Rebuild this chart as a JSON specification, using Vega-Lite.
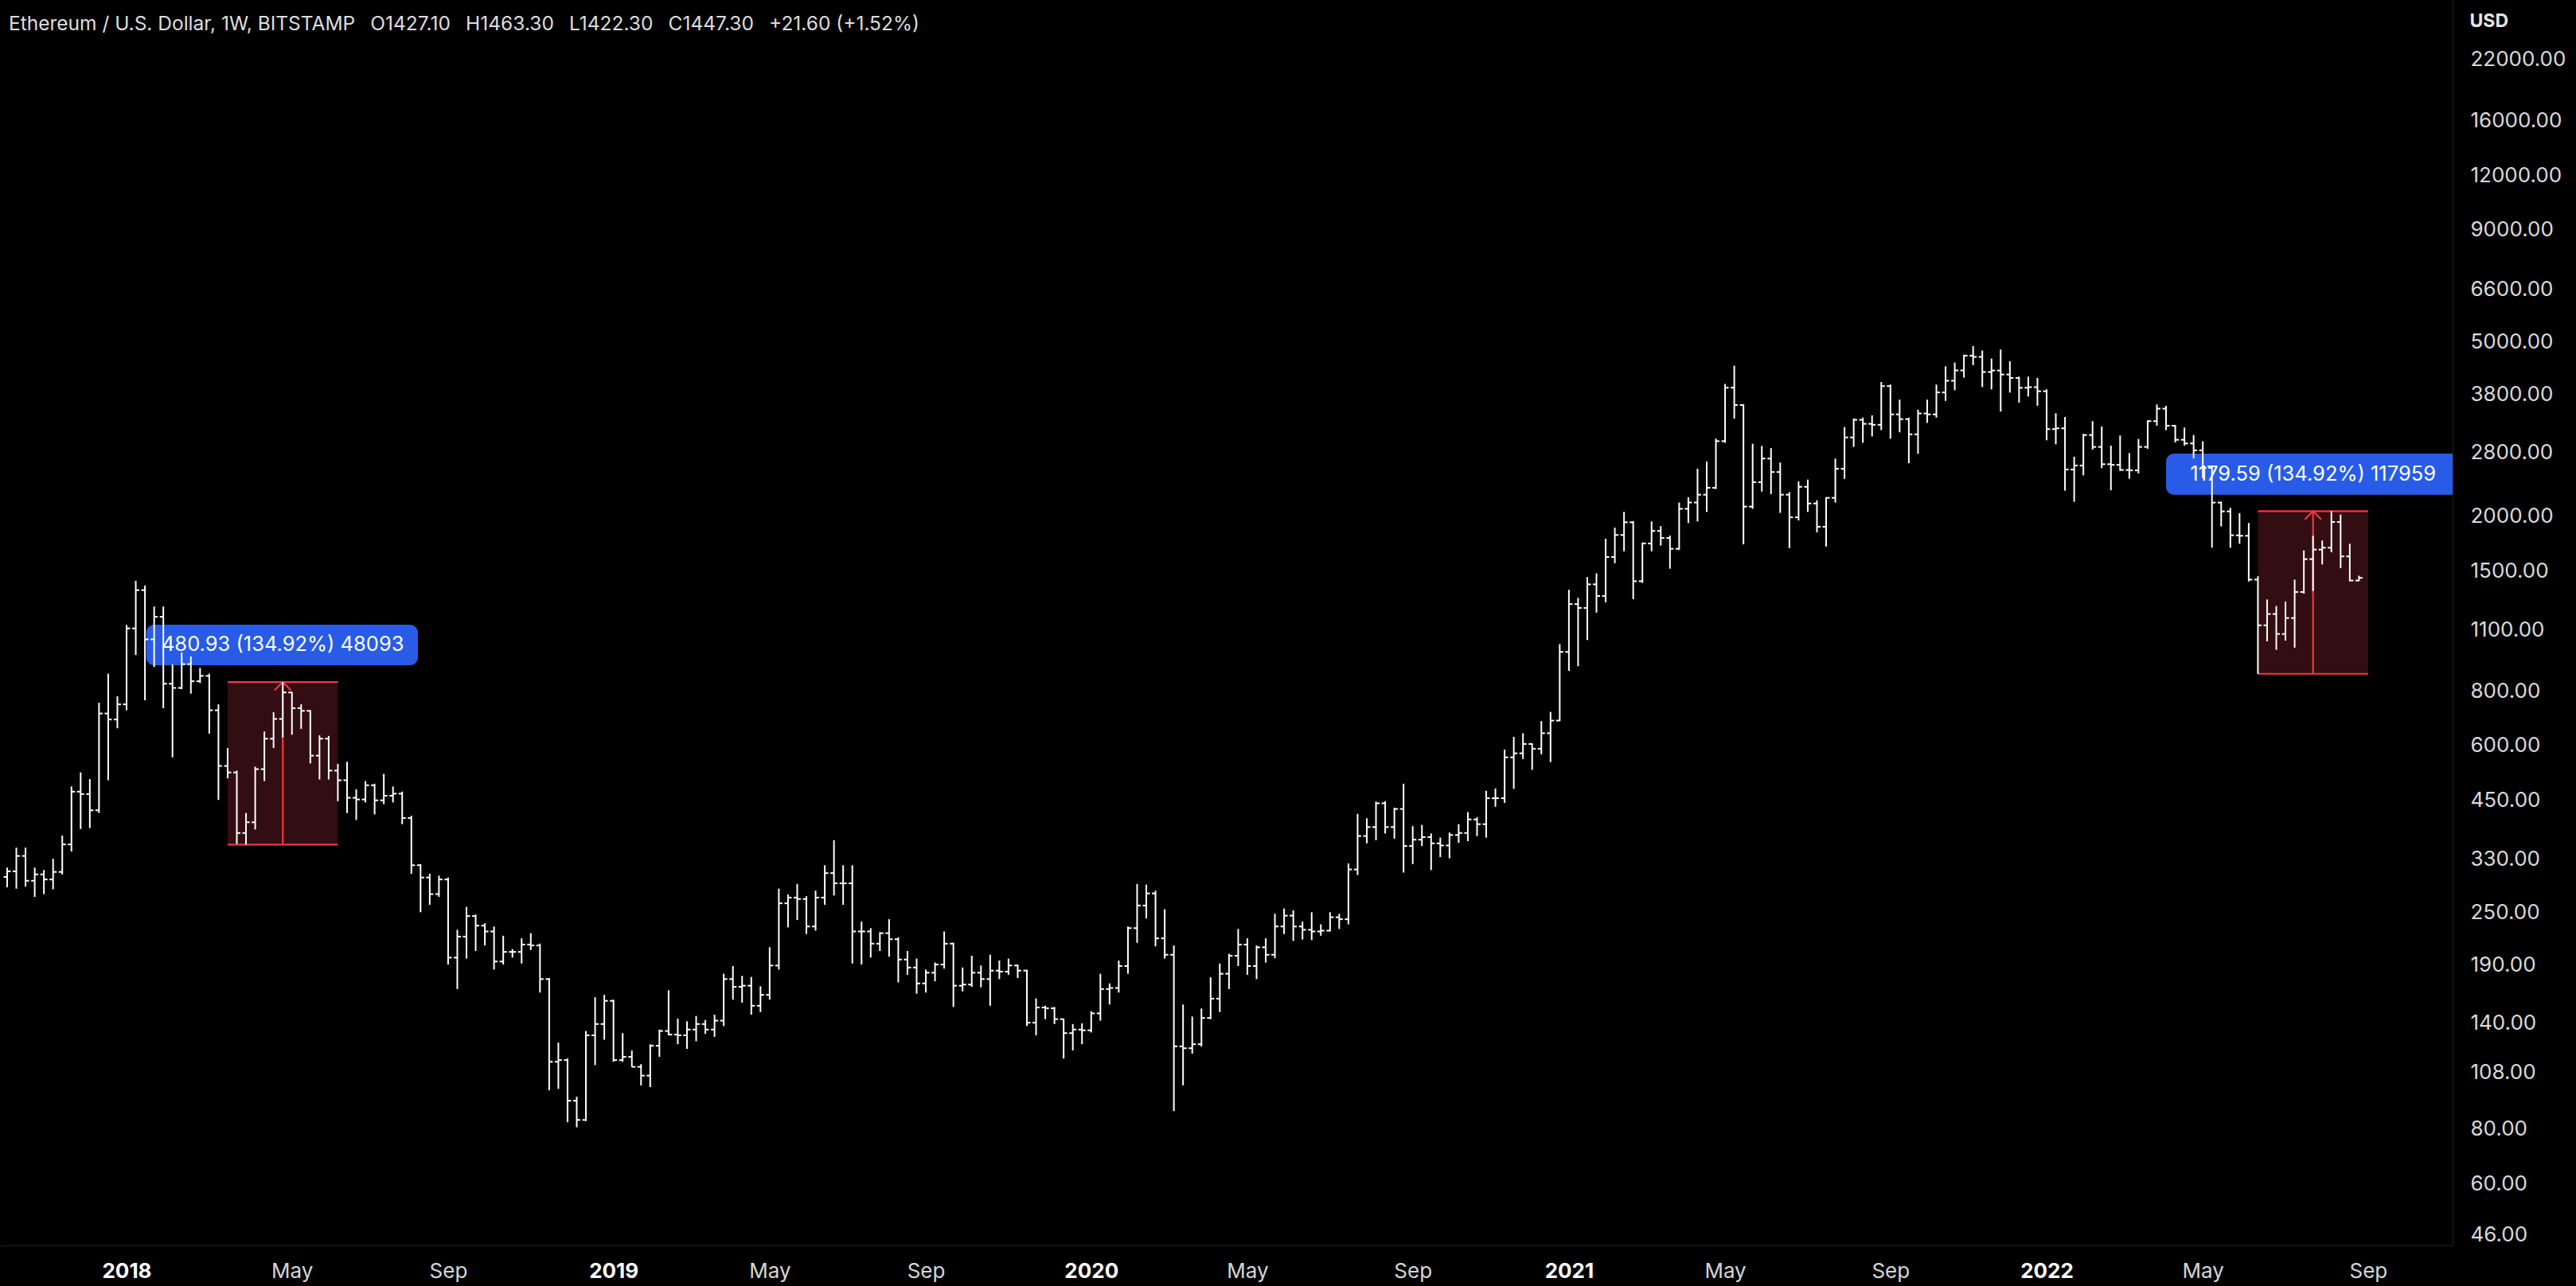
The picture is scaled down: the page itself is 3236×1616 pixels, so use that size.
{
  "$schema": "https://vega.github.io/schema/vega-lite/v6.json",
  "width": 3081,
  "height": 1565,
  "autosize": "none",
  "padding": {"left": 0, "top": 0, "right": 155, "bottom": 51},
  "background": "#000000",
  "title": {
    "text": "Ethereum / U.S. Dollar, 1W, BITSTAMP\u2002\u00a0O1427.10\u2002\u00a0H1463.30\u2002\u00a0L1422.30\u2002\u00a0C1447.30\u2002\u00a0+21.60 (+1.52%)",
    "anchor": "start",
    "frame": "group",
    "orient": "top",
    "offset": -62,
    "baseline": "alphabetic",
    "dx": 11,
    "font": "Inter",
    "fontSize": 24.5,
    "fontWeight": "normal",
    "color": "#dedede"
  },
  "config": {
    "view": {"stroke": null},
    "font": "Inter",
    "axis": {"grid": false, "ticks": false, "tickSize": 0, "domainColor": "#1a1a1a", "domainWidth": 1.5, "labelFont": "Inter"}
  },
  "datasets": {
    "bars": [
      {"d":"2017-10-02","o":301,"h":316,"l":285,"c":310},
      {"d":"2017-10-09","o":310,"h":351,"l":283,"c":336},
      {"d":"2017-10-16","o":336,"h":351,"l":286,"c":295},
      {"d":"2017-10-23","o":295,"h":316,"l":271,"c":305},
      {"d":"2017-10-30","o":305,"h":312,"l":275,"c":297},
      {"d":"2017-11-06","o":297,"h":331,"l":282,"c":309},
      {"d":"2017-11-13","o":309,"h":374,"l":305,"c":357},
      {"d":"2017-11-20","o":357,"h":484,"l":344,"c":471},
      {"d":"2017-11-27","o":471,"h":521,"l":387,"c":465},
      {"d":"2017-12-04","o":465,"h":503,"l":389,"c":427},
      {"d":"2017-12-11","o":427,"h":751,"l":421,"c":710},
      {"d":"2017-12-18","o":710,"h":875,"l":500,"c":688},
      {"d":"2017-12-25","o":688,"h":777,"l":657,"c":745},
      {"d":"2018-01-01","o":745,"h":1130,"l":722,"c":1110},
      {"d":"2018-01-08","o":1110,"h":1425,"l":965,"c":1357},
      {"d":"2018-01-15","o":1357,"h":1390,"l":761,"c":1048},
      {"d":"2018-01-22","o":1048,"h":1245,"l":906,"c":1180},
      {"d":"2018-01-29","o":1180,"h":1245,"l":730,"c":830},
      {"d":"2018-02-05","o":830,"h":919,"l":564,"c":812},
      {"d":"2018-02-12","o":812,"h":978,"l":807,"c":920},
      {"d":"2018-02-19","o":920,"h":958,"l":788,"c":841},
      {"d":"2018-02-26","o":841,"h":902,"l":833,"c":865},
      {"d":"2018-03-05","o":865,"h":875,"l":639,"c":722},
      {"d":"2018-03-12","o":722,"h":745,"l":451,"c":539},
      {"d":"2018-03-19","o":539,"h":592,"l":505,"c":521},
      {"d":"2018-03-26","o":521,"h":526,"l":358,"c":379},
      {"d":"2018-04-02","o":379,"h":421,"l":356.5,"c":401},
      {"d":"2018-04-09","o":401,"h":537,"l":386,"c":530},
      {"d":"2018-04-16","o":530,"h":646,"l":498,"c":622},
      {"d":"2018-04-23","o":622,"h":715,"l":592,"c":690},
      {"d":"2018-04-30","o":690,"h":837.4,"l":626,"c":793},
      {"d":"2018-05-07","o":793,"h":796,"l":635,"c":730},
      {"d":"2018-05-14","o":730,"h":745,"l":655,"c":720},
      {"d":"2018-05-21","o":720,"h":722,"l":546,"c":569},
      {"d":"2018-05-28","o":569,"h":633,"l":502,"c":622},
      {"d":"2018-06-04","o":622,"h":631,"l":502,"c":526},
      {"d":"2018-06-11","o":526,"h":545,"l":448,"c":500},
      {"d":"2018-06-18","o":500,"h":551,"l":421,"c":456},
      {"d":"2018-06-25","o":456,"h":477,"l":406,"c":452},
      {"d":"2018-07-02","o":452,"h":498,"l":445,"c":487},
      {"d":"2018-07-09","o":487,"h":491,"l":418,"c":450},
      {"d":"2018-07-16","o":450,"h":517,"l":441,"c":461},
      {"d":"2018-07-23","o":461,"h":484,"l":445,"c":466},
      {"d":"2018-07-30","o":466,"h":471,"l":397,"c":410},
      {"d":"2018-08-06","o":410,"h":415,"l":306,"c":320},
      {"d":"2018-08-13","o":320,"h":322,"l":250,"c":300},
      {"d":"2018-08-20","o":300,"h":306,"l":260,"c":275},
      {"d":"2018-08-27","o":275,"h":303,"l":271,"c":297},
      {"d":"2018-09-03","o":297,"h":300,"l":190,"c":197},
      {"d":"2018-09-10","o":197,"h":228,"l":167,"c":220},
      {"d":"2018-09-17","o":220,"h":257,"l":196,"c":245},
      {"d":"2018-09-24","o":245,"h":247,"l":204,"c":233},
      {"d":"2018-10-01","o":233,"h":236,"l":210,"c":226},
      {"d":"2018-10-08","o":226,"h":232,"l":185,"c":193},
      {"d":"2018-10-15","o":193,"h":221,"l":190,"c":203},
      {"d":"2018-10-22","o":203,"h":206,"l":197,"c":203},
      {"d":"2018-10-29","o":203,"h":218,"l":191,"c":211},
      {"d":"2018-11-05","o":211,"h":224,"l":205,"c":210},
      {"d":"2018-11-12","o":210,"h":212,"l":164,"c":176},
      {"d":"2018-11-19","o":176,"h":177,"l":98.2,"c":114},
      {"d":"2018-11-26","o":114,"h":126,"l":98.9,"c":115},
      {"d":"2018-12-03","o":115,"h":116,"l":83,"c":92.9},
      {"d":"2018-12-10","o":92.9,"h":94.9,"l":80.8,"c":84},
      {"d":"2018-12-17","o":84,"h":134,"l":83.5,"c":131},
      {"d":"2018-12-24","o":131,"h":160,"l":112,"c":139},
      {"d":"2018-12-31","o":139,"h":162,"l":128,"c":157},
      {"d":"2019-01-07","o":157,"h":158,"l":114,"c":115},
      {"d":"2019-01-14","o":115,"h":132.5,"l":114,"c":117},
      {"d":"2019-01-21","o":117,"h":121,"l":111,"c":111},
      {"d":"2019-01-28","o":111,"h":112.6,"l":100.7,"c":106},
      {"d":"2019-02-04","o":106,"h":125,"l":99.8,"c":124},
      {"d":"2019-02-11","o":124,"h":135,"l":117,"c":134},
      {"d":"2019-02-18","o":134,"h":166,"l":131,"c":131.5},
      {"d":"2019-02-25","o":131.5,"h":143,"l":125,"c":131},
      {"d":"2019-03-04","o":131,"h":141,"l":122,"c":135},
      {"d":"2019-03-11","o":135,"h":145,"l":127,"c":139},
      {"d":"2019-03-18","o":139,"h":142,"l":132,"c":135},
      {"d":"2019-03-25","o":135,"h":146,"l":130,"c":141.5},
      {"d":"2019-04-01","o":141.5,"h":181,"l":137.5,"c":176},
      {"d":"2019-04-08","o":176,"h":188.5,"l":158,"c":169},
      {"d":"2019-04-15","o":169,"h":179,"l":155.5,"c":170},
      {"d":"2019-04-22","o":170,"h":178,"l":146,"c":153},
      {"d":"2019-04-29","o":153,"h":169.5,"l":148,"c":162},
      {"d":"2019-05-06","o":162,"h":208,"l":158,"c":189},
      {"d":"2019-05-13","o":189,"h":283,"l":185,"c":262},
      {"d":"2019-05-20","o":262,"h":274.5,"l":231,"c":270},
      {"d":"2019-05-27","o":270,"h":290,"l":240,"c":268},
      {"d":"2019-06-03","o":268,"h":272,"l":223,"c":232},
      {"d":"2019-06-10","o":232,"h":280,"l":227,"c":270},
      {"d":"2019-06-17","o":270,"h":320,"l":260,"c":307},
      {"d":"2019-06-24","o":307,"h":365,"l":273,"c":291},
      {"d":"2019-07-01","o":291,"h":320,"l":260,"c":291},
      {"d":"2019-07-08","o":291,"h":320,"l":191,"c":226},
      {"d":"2019-07-15","o":226,"h":238,"l":190,"c":226},
      {"d":"2019-07-22","o":226,"h":230,"l":197,"c":212},
      {"d":"2019-07-29","o":212,"h":225,"l":204,"c":224},
      {"d":"2019-08-05","o":224,"h":241,"l":198,"c":217},
      {"d":"2019-08-12","o":217,"h":219,"l":173,"c":195},
      {"d":"2019-08-19","o":195,"h":204,"l":180,"c":187},
      {"d":"2019-08-26","o":187,"h":196,"l":163,"c":172},
      {"d":"2019-09-02","o":172,"h":185,"l":164,"c":182},
      {"d":"2019-09-09","o":182,"h":192,"l":174,"c":190},
      {"d":"2019-09-16","o":190,"h":226,"l":186,"c":212},
      {"d":"2019-09-23","o":212,"h":213,"l":152,"c":170},
      {"d":"2019-09-30","o":170,"h":187,"l":165,"c":171},
      {"d":"2019-10-07","o":171,"h":199,"l":169,"c":182},
      {"d":"2019-10-14","o":182,"h":189,"l":168.5,"c":176},
      {"d":"2019-10-21","o":176,"h":200,"l":153,"c":184},
      {"d":"2019-10-28","o":184,"h":194,"l":176,"c":183},
      {"d":"2019-11-04","o":183,"h":196,"l":180,"c":189},
      {"d":"2019-11-11","o":189,"h":190,"l":177,"c":184},
      {"d":"2019-11-18","o":184,"h":185,"l":137.5,"c":140},
      {"d":"2019-11-25","o":140,"h":159,"l":131,"c":151.6},
      {"d":"2019-12-02","o":151.6,"h":153,"l":142.6,"c":151},
      {"d":"2019-12-09","o":151,"h":152,"l":139,"c":142.6},
      {"d":"2019-12-16","o":142.6,"h":143,"l":116,"c":132.5},
      {"d":"2019-12-23","o":132.5,"h":139,"l":121,"c":135},
      {"d":"2019-12-30","o":135,"h":139.5,"l":125,"c":134.5},
      {"d":"2020-01-06","o":134.5,"h":148.7,"l":133,"c":147},
      {"d":"2020-01-13","o":147,"h":181,"l":141.5,"c":167},
      {"d":"2020-01-20","o":167,"h":172,"l":154,"c":168},
      {"d":"2020-01-27","o":168,"h":194,"l":164,"c":188.5},
      {"d":"2020-02-03","o":188.5,"h":232,"l":181,"c":230},
      {"d":"2020-02-10","o":230,"h":290,"l":213,"c":259},
      {"d":"2020-02-17","o":259,"h":289,"l":242,"c":276},
      {"d":"2020-02-24","o":276,"h":280,"l":209,"c":218},
      {"d":"2020-03-02","o":218,"h":254,"l":196,"c":200},
      {"d":"2020-03-09","o":200,"h":210,"l":88,"c":123.6},
      {"d":"2020-03-16","o":123.6,"h":154,"l":100.7,"c":122.4},
      {"d":"2020-03-23","o":122.4,"h":144.6,"l":119,"c":125},
      {"d":"2020-03-30","o":125,"h":150.8,"l":123.6,"c":143.5},
      {"d":"2020-04-06","o":143.5,"h":177.6,"l":142.6,"c":158.8},
      {"d":"2020-04-13","o":158.8,"h":191,"l":148,"c":181},
      {"d":"2020-04-20","o":181,"h":201,"l":167,"c":199},
      {"d":"2020-04-27","o":199,"h":229,"l":188.5,"c":211},
      {"d":"2020-05-04","o":211,"h":218,"l":180,"c":188.5},
      {"d":"2020-05-11","o":188.5,"h":210,"l":176,"c":208},
      {"d":"2020-05-18","o":208,"h":218,"l":192,"c":200},
      {"d":"2020-05-25","o":200,"h":248,"l":196.5,"c":232},
      {"d":"2020-06-01","o":232,"h":255,"l":223,"c":245.6},
      {"d":"2020-06-08","o":245.6,"h":252.6,"l":215,"c":232},
      {"d":"2020-06-15","o":232,"h":238,"l":216.6,"c":228},
      {"d":"2020-06-22","o":228,"h":250,"l":216,"c":226},
      {"d":"2020-06-29","o":226,"h":234.6,"l":221,"c":227},
      {"d":"2020-07-06","o":227,"h":250,"l":226,"c":243.5},
      {"d":"2020-07-13","o":243.5,"h":248,"l":229,"c":241},
      {"d":"2020-07-20","o":241,"h":323,"l":234.6,"c":313},
      {"d":"2020-07-27","o":313,"h":419,"l":304,"c":373},
      {"d":"2020-08-03","o":373,"h":409.5,"l":359,"c":391},
      {"d":"2020-08-10","o":391,"h":447,"l":365,"c":443},
      {"d":"2020-08-17","o":443,"h":448,"l":378,"c":391},
      {"d":"2020-08-24","o":391,"h":433,"l":368,"c":430},
      {"d":"2020-08-31","o":430,"h":491,"l":308,"c":354},
      {"d":"2020-09-07","o":354,"h":393,"l":322,"c":366},
      {"d":"2020-09-14","o":366,"h":395.5,"l":354,"c":371},
      {"d":"2020-09-21","o":371,"h":378,"l":312,"c":359},
      {"d":"2020-09-28","o":359,"h":370,"l":334,"c":355},
      {"d":"2020-10-05","o":355,"h":380,"l":332,"c":375},
      {"d":"2020-10-12","o":375,"h":397,"l":360,"c":379},
      {"d":"2020-10-19","o":379,"h":423,"l":363,"c":407},
      {"d":"2020-10-26","o":407,"h":412,"l":373,"c":397},
      {"d":"2020-11-02","o":397,"h":473,"l":370,"c":455},
      {"d":"2020-11-09","o":455,"h":479,"l":435,"c":455},
      {"d":"2020-11-16","o":455,"h":587.5,"l":444,"c":564},
      {"d":"2020-11-23","o":564,"h":628,"l":478,"c":576},
      {"d":"2020-11-30","o":576,"h":640,"l":559,"c":605},
      {"d":"2020-12-07","o":605,"h":607,"l":528,"c":590},
      {"d":"2020-12-14","o":590,"h":682,"l":573,"c":640},
      {"d":"2020-12-21","o":640,"h":716,"l":550,"c":684},
      {"d":"2020-12-28","o":684,"h":1022,"l":682,"c":981},
      {"d":"2021-01-04","o":981,"h":1360,"l":888,"c":1261},
      {"d":"2021-01-11","o":1261,"h":1303,"l":910,"c":1236},
      {"d":"2021-01-18","o":1236,"h":1453,"l":1044,"c":1399},
      {"d":"2021-01-25","o":1399,"h":1482,"l":1206,"c":1316},
      {"d":"2021-02-01","o":1316,"h":1777,"l":1273,"c":1615},
      {"d":"2021-02-08","o":1615,"h":1884,"l":1563,"c":1813},
      {"d":"2021-02-15","o":1813,"h":2046,"l":1664,"c":1938},
      {"d":"2021-02-22","o":1938,"h":1950,"l":1294,"c":1422},
      {"d":"2021-03-01","o":1422,"h":1743,"l":1410,"c":1734},
      {"d":"2021-03-08","o":1734,"h":1947,"l":1664,"c":1852},
      {"d":"2021-03-15","o":1852,"h":1899,"l":1715,"c":1784},
      {"d":"2021-03-22","o":1784,"h":1807,"l":1519,"c":1686},
      {"d":"2021-03-29","o":1686,"h":2150,"l":1677,"c":2080},
      {"d":"2021-04-05","o":2080,"h":2211,"l":1931,"c":2150},
      {"d":"2021-04-12","o":2150,"h":2567,"l":1947,"c":2240},
      {"d":"2021-04-19","o":2240,"h":2666,"l":2046,"c":2323},
      {"d":"2021-04-26","o":2323,"h":3007,"l":2308,"c":2967},
      {"d":"2021-05-03","o":2967,"h":4008,"l":2942,"c":3929},
      {"d":"2021-05-10","o":3929,"h":4411,"l":3342,"c":3588},
      {"d":"2021-05-17","o":3588,"h":3600,"l":1726,"c":2104},
      {"d":"2021-05-24","o":2104,"h":2928,"l":2080,"c":2393},
      {"d":"2021-05-31","o":2393,"h":2894,"l":2277,"c":2708},
      {"d":"2021-06-07","o":2708,"h":2861,"l":2247,"c":2523},
      {"d":"2021-06-14","o":2523,"h":2652,"l":2036,"c":2240},
      {"d":"2021-06-21","o":2240,"h":2270,"l":1692,"c":1989},
      {"d":"2021-06-28","o":1989,"h":2401,"l":1957,"c":2335},
      {"d":"2021-07-05","o":2335,"h":2425,"l":2046,"c":2139},
      {"d":"2021-07-12","o":2139,"h":2175,"l":1838,"c":1893},
      {"d":"2021-07-19","o":1893,"h":2211,"l":1706,"c":2203},
      {"d":"2021-07-26","o":2203,"h":2708,"l":2150,"c":2567},
      {"d":"2021-08-02","o":2567,"h":3196,"l":2433,"c":3026},
      {"d":"2021-08-09","o":3026,"h":3342,"l":2880,"c":3320},
      {"d":"2021-08-16","o":3320,"h":3358,"l":2942,"c":3250},
      {"d":"2021-08-23","o":3250,"h":3398,"l":3042,"c":3234},
      {"d":"2021-08-30","o":3234,"h":4048,"l":3145,"c":3962},
      {"d":"2021-09-06","o":3962,"h":3995,"l":3007,"c":3415},
      {"d":"2021-09-13","o":3415,"h":3690,"l":3108,"c":3331},
      {"d":"2021-09-20","o":3331,"h":3358,"l":2643,"c":3076},
      {"d":"2021-09-27","o":3076,"h":3500,"l":2777,"c":3432},
      {"d":"2021-10-04","o":3432,"h":3690,"l":3266,"c":3415},
      {"d":"2021-10-11","o":3415,"h":3995,"l":3358,"c":3833},
      {"d":"2021-10-18","o":3833,"h":4396,"l":3666,"c":4075},
      {"d":"2021-10-25","o":4075,"h":4484,"l":3878,"c":4302},
      {"d":"2021-11-01","o":4302,"h":4673,"l":4143,"c":4649},
      {"d":"2021-11-08","o":4649,"h":4888,"l":4425,"c":4620},
      {"d":"2021-11-15","o":4620,"h":4775,"l":3942,"c":4267},
      {"d":"2021-11-22","o":4267,"h":4577,"l":3895,"c":4300},
      {"d":"2021-11-29","o":4300,"h":4801,"l":3465,"c":4211},
      {"d":"2021-12-06","o":4211,"h":4514,"l":3830,"c":4136},
      {"d":"2021-12-13","o":4136,"h":4164,"l":3633,"c":3927},
      {"d":"2021-12-20","o":3927,"h":4164,"l":3751,"c":3940},
      {"d":"2021-12-27","o":3940,"h":4136,"l":3573,"c":3857},
      {"d":"2022-01-03","o":3857,"h":3895,"l":2981,"c":3161},
      {"d":"2022-01-10","o":3161,"h":3436,"l":2919,"c":3174},
      {"d":"2022-01-17","o":3174,"h":3370,"l":2288,"c":2557},
      {"d":"2022-01-24","o":2557,"h":2734,"l":2158,"c":2611},
      {"d":"2022-01-31","o":2611,"h":3086,"l":2480,"c":3064},
      {"d":"2022-02-07","o":3064,"h":3296,"l":2839,"c":2879},
      {"d":"2022-02-14","o":2879,"h":3205,"l":2575,"c":2629},
      {"d":"2022-02-21","o":2629,"h":2899,"l":2294,"c":2620},
      {"d":"2022-02-28","o":2620,"h":3056,"l":2539,"c":2551},
      {"d":"2022-03-07","o":2551,"h":2787,"l":2436,"c":2545},
      {"d":"2022-03-14","o":2545,"h":3001,"l":2504,"c":2879},
      {"d":"2022-03-21","o":2879,"h":3310,"l":2851,"c":3296},
      {"d":"2022-03-28","o":3296,"h":3597,"l":3218,"c":3520},
      {"d":"2022-04-04","o":3520,"h":3573,"l":3144,"c":3218},
      {"d":"2022-04-11","o":3218,"h":3232,"l":2948,"c":2989},
      {"d":"2022-04-18","o":2989,"h":3187,"l":2899,"c":2932},
      {"d":"2022-04-25","o":2932,"h":3064,"l":2712,"c":2827},
      {"d":"2022-05-02","o":2827,"h":2965,"l":2446,"c":2580},
      {"d":"2022-05-09","o":2580,"h":2611,"l":1696,"c":2149},
      {"d":"2022-05-16","o":2149,"h":2160,"l":1896,"c":2052},
      {"d":"2022-05-23","o":2052,"h":2090,"l":1696,"c":1810},
      {"d":"2022-05-30","o":1810,"h":2033,"l":1731,"c":1805},
      {"d":"2022-06-06","o":1805,"h":1931,"l":1420,"c":1434},
      {"d":"2022-06-13","o":1434,"h":1460,"l":874.3,"c":1128},
      {"d":"2022-06-20","o":1128,"h":1292,"l":1037,"c":1197},
      {"d":"2022-06-27","o":1197,"h":1248,"l":992,"c":1078},
      {"d":"2022-07-04","o":1078,"h":1278,"l":1041,"c":1172},
      {"d":"2022-07-11","o":1172,"h":1434,"l":1003,"c":1344},
      {"d":"2022-07-18","o":1344,"h":1672,"l":1332,"c":1597},
      {"d":"2022-07-25","o":1597,"h":1805,"l":1351,"c":1679},
      {"d":"2022-08-01","o":1679,"h":1761,"l":1553,"c":1696},
      {"d":"2022-08-08","o":1696,"h":2053.9,"l":1656,"c":1941},
      {"d":"2022-08-15","o":1941,"h":2018,"l":1523,"c":1620},
      {"d":"2022-08-22","o":1620,"h":1731,"l":1421,"c":1427.1},
      {"d":"2022-08-29","o":1427.1,"h":1463.3,"l":1422.3,"c":1447.3}
    ],
    "boxes": [
      {"x1":"2018-03-19","x2":"2018-06-11","xm":"2018-04-30","lo":356.5,"hi":837.4},
      {"x1":"2022-06-13","x2":"2022-09-05","xm":"2022-07-25","lo":874.3,"hi":2053.9}
    ],
    "labels": [
      {"x1":"2018-01-16","x2":"2018-08-11","xm":"2018-04-30","y1":915,"y2":1132,"ym":1017.5,"t":"480.93 (134.92%) 48093"},
      {"x1":"2022-04-04","x2":"2022-11-13","xm":"2022-07-25","y1":2239,"y2":2780,"ym":2494,"t":"1179.59 (134.92%) 117959"}
    ]
  },
  "layer": [
    {
      "data": {"name": "boxes"},
      "mark": {"type": "rect", "color": "#320d11", "opacity": 1},
      "encoding": {
        "x": {
          "field": "x1", "type": "temporal", "title": null,
          "scale": {"type": "utc", "domain": [{"year": 2017, "month": 9, "date": 26, "hours": 13, "minutes": 18, "utc": true}, {"year": 2022, "month": 11, "date": 8, "hours": 8, "minutes": 24, "utc": true}]},
          "axis": {
            "orient": "bottom",
            "values": [
              {"year": 2018, "month": 1, "date": 1, "utc": true},
              {"year": 2018, "month": 5, "date": 7, "utc": true},
              {"year": 2018, "month": 9, "date": 3, "utc": true},
              {"year": 2019, "month": 1, "date": 7, "utc": true},
              {"year": 2019, "month": 5, "date": 6, "utc": true},
              {"year": 2019, "month": 9, "date": 2, "utc": true},
              {"year": 2020, "month": 1, "date": 6, "utc": true},
              {"year": 2020, "month": 5, "date": 4, "utc": true},
              {"year": 2020, "month": 9, "date": 7, "utc": true},
              {"year": 2021, "month": 1, "date": 4, "utc": true},
              {"year": 2021, "month": 5, "date": 3, "utc": true},
              {"year": 2021, "month": 9, "date": 6, "utc": true},
              {"year": 2022, "month": 1, "date": 3, "utc": true},
              {"year": 2022, "month": 5, "date": 2, "utc": true},
              {"year": 2022, "month": 9, "date": 5, "utc": true}
            ],
            "labelExpr": "utcmonth(datum.value) === 0 ? utcFormat(datum.value, '%Y') : utcFormat(datum.value, '%b')",
            "labelFontSize": 26,
            "labelFontWeight": {"condition": {"test": "utcmonth(datum.value) === 0", "value": "bold"}, "value": "normal"},
            "labelColor": {"condition": {"test": "utcmonth(datum.value) === 0", "value": "#ffffff"}, "value": "#d6d6d6"},
            "labelBaseline": "alphabetic",
            "labelPadding": 40,
            "labelOverlap": false,
            "labelFlush": false,
            "ticks": false,
            "grid": false
          }
        },
        "x2": {"field": "x2"},
        "y": {
          "field": "lo", "type": "quantitative", "title": "USD",
          "scale": {"type": "log", "domain": [43.46, 30097], "nice": false, "zero": false},
          "axis": {
            "orient": "right",
            "values": [46, 60, 80, 108, 140, 190, 250, 330, 450, 600, 800, 1100, 1500, 2000, 2800, 3800, 5000, 6600, 9000, 12000, 16000, 22000],
            "format": ".2f",
            "labelFontSize": 26,
            "labelColor": "#dadada",
            "labelPadding": 22,
            "labelBaseline": "middle",
            "labelOverlap": false,
            "labelFlush": false,
            "ticks": false,
            "grid": false,
            "titleAngle": 0,
            "titleAlign": "left",
            "titleBaseline": "alphabetic",
            "titleX": 21,
            "titleY": 33,
            "titleFontSize": 23,
            "titleFontWeight": "bold",
            "titleColor": "#e6e6e6",
            "titleFont": "Inter"
          }
        },
        "y2": {"field": "hi"}
      }
    },
    {
      "data": {"name": "boxes"},
      "mark": {"type": "rule", "color": "#f23645", "strokeWidth": 2.2},
      "encoding": {
        "x": {"field": "x1", "type": "temporal", "title": null},
        "x2": {"field": "x2"},
        "y": {"field": "hi", "type": "quantitative", "title": "USD"}
      }
    },
    {
      "data": {"name": "boxes"},
      "mark": {"type": "rule", "color": "#f23645", "strokeWidth": 2.2},
      "encoding": {
        "x": {"field": "x1", "type": "temporal", "title": null},
        "x2": {"field": "x2"},
        "y": {"field": "lo", "type": "quantitative", "title": "USD"}
      }
    },
    {
      "data": {"name": "boxes"},
      "mark": {"type": "rule", "color": "#f23645", "strokeWidth": 2.2},
      "encoding": {
        "x": {"field": "xm", "type": "temporal", "title": null},
        "y": {"field": "lo", "type": "quantitative", "title": "USD"},
        "y2": {"field": "hi"}
      }
    },
    {
      "data": {"name": "boxes"},
      "mark": {"type": "point", "shape": "M-1,1L0,0L1,1", "size": 430, "filled": false, "stroke": "#f23645", "strokeWidth": 2.2, "opacity": 1},
      "encoding": {
        "x": {"field": "xm", "type": "temporal", "title": null},
        "y": {"field": "hi", "type": "quantitative", "title": "USD"}
      }
    },
    {
      "data": {"name": "labels"},
      "mark": {"type": "rect", "color": "#285ce6", "cornerRadius": 10, "opacity": 1, "clip": true},
      "encoding": {
        "x": {"field": "x1", "type": "temporal", "title": null},
        "x2": {"field": "x2"},
        "y": {"field": "y1", "type": "quantitative", "title": "USD"},
        "y2": {"field": "y2"}
      }
    },
    {
      "data": {"name": "labels"},
      "mark": {"type": "text", "color": "#ffffff", "font": "Inter", "fontSize": 25.5, "align": "center", "baseline": "middle", "clip": true},
      "encoding": {
        "x": {"field": "xm", "type": "temporal", "title": null},
        "y": {"field": "ym", "type": "quantitative", "title": "USD"},
        "text": {"field": "t"}
      }
    },
    {
      "data": {"name": "bars"},
      "mark": {"type": "rule", "color": "#ffffff", "strokeWidth": 2},
      "encoding": {
        "x": {"field": "d", "type": "temporal", "title": null},
        "y": {"field": "l", "type": "quantitative", "title": "USD"},
        "y2": {"field": "h"}
      }
    },
    {
      "data": {"name": "bars"},
      "mark": {"type": "rule", "color": "#ffffff", "strokeWidth": 2, "xOffset": -4.5, "x2Offset": 0},
      "encoding": {
        "x": {"field": "d", "type": "temporal", "title": null},
        "x2": {"field": "d"},
        "y": {"field": "o", "type": "quantitative", "title": "USD"}
      }
    },
    {
      "data": {"name": "bars"},
      "mark": {"type": "rule", "color": "#ffffff", "strokeWidth": 2, "xOffset": 0, "x2Offset": 4.5},
      "encoding": {
        "x": {"field": "d", "type": "temporal", "title": null},
        "x2": {"field": "d"},
        "y": {"field": "c", "type": "quantitative", "title": "USD"}
      }
    }
  ]
}
